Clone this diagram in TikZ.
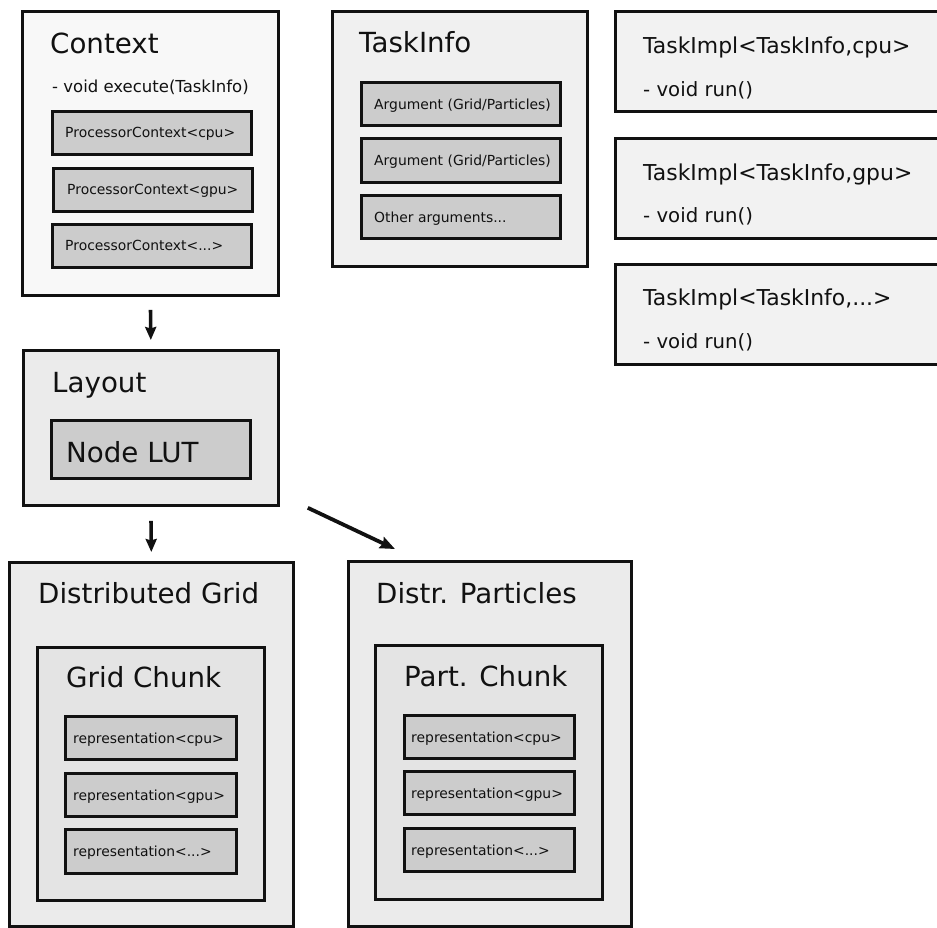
\documentclass[tikz,border=0pt]{standalone}
\usepackage{fontspec}
\setmainfont{DejaVu Sans}
\usetikzlibrary{arrows.meta}

\definecolor{ctxfill}{HTML}{F8F8F8}
\definecolor{infofill}{HTML}{F0F0F0}
\definecolor{implfill}{HTML}{F2F2F2}
\definecolor{outerfill}{HTML}{EBEBEB}
\definecolor{chunkfill}{HTML}{E4E4E4}
\definecolor{itemfill}{HTML}{CCCCCC}
\definecolor{ink}{HTML}{111111}

\tikzset{
  box/.style={draw=ink, line width=2.8pt, rectangle, inner sep=0pt, anchor=north west},
  itembox/.style={box, fill=itemfill},
  title/.style={inner sep=0pt, anchor=base west, text=ink, font=\fontsize{27.7}{32}\selectfont},
  implname/.style={inner sep=0pt, anchor=base west, text=ink, font=\fontsize{21.9}{26}\selectfont},
  method/.style={inner sep=0pt, anchor=base west, text=ink, font=\fontsize{19.7}{23}\selectfont},
  member/.style={inner sep=0pt, anchor=base west, text=ink, font=\fontsize{16.5}{19}\selectfont},
  small/.style={inner sep=0pt, anchor=base west, text=ink, font=\fontsize{13.9}{16}\selectfont},
  flow/.style={draw=ink, line width=3.6pt, -{Stealth[length=13pt,width=11pt,inset=1.5pt]}}
}

\begin{document}
\begin{tikzpicture}[x=1pt, y=-1pt]
\clip (0,0) rectangle (937,927);
\fill[white] (0,0) rectangle (937,927);

% ---- Context ----
\node[box, fill=ctxfill, minimum width=256pt, minimum height=284pt] (ctx) at (21,10) {};
\node[title] (ctxT) at (50,53.3) {Context};
\node[member] (ctxM) at (52,92) {- void execute(TaskInfo)};
\node[itembox, minimum width=199pt, minimum height=43pt] (pc1) at (51,110) {};
\node[small] (pc1T) at (65,137.7) {ProcessorContext<cpu>};
\node[itembox, minimum width=199pt, minimum height=43pt] (pc2) at (52,167) {};
\node[small] (pc2T) at (67,194.5) {ProcessorContext<gpu>};
\node[itembox, minimum width=199pt, minimum height=43pt] (pc3) at (51,223) {};
\node[small] (pc3T) at (65,250.5) {ProcessorContext<...>};

% ---- TaskInfo ----
\node[box, fill=infofill, minimum width=255pt, minimum height=255pt] (info) at (331,10) {};
\node[title] (infoT) at (359,52) {TaskInfo};
\node[itembox, minimum width=199pt, minimum height=43pt] (arg1) at (360,81) {};
\node[small] (arg1T) at (374,109) {Argument (Grid/Particles)};
\node[itembox, minimum width=199pt, minimum height=44pt] (arg2) at (360,137) {};
\node[small] (arg2T) at (374,165.5) {Argument (Grid/Particles)};
\node[itembox, minimum width=199pt, minimum height=43pt] (arg3) at (360,194) {};
\node[small] (arg3T) at (374,222) {Other arguments...};

% ---- TaskImpl variants ----
\node[box, fill=implfill, minimum width=340pt, minimum height=100pt] (impl1) at (614,10) {};
\node[implname] (impl1T) at (643,53) {TaskImpl<TaskInfo,cpu>};
\node[method] (impl1M) at (643,96.5) {- void run()};
\node[box, fill=implfill, minimum width=340pt, minimum height=100pt] (impl2) at (614,137) {};
\node[implname] (impl2T) at (643,180) {TaskImpl<TaskInfo,gpu>};
\node[method] (impl2M) at (643,222.7) {- void run()};
\node[box, fill=implfill, minimum width=340pt, minimum height=100pt] (impl3) at (614,263) {};
\node[implname] (impl3T) at (643,305) {TaskImpl<TaskInfo,...>};
\node[method] (impl3M) at (643,348.3) {- void run()};

% ---- Layout ----
\node[box, fill=outerfill, minimum width=255pt, minimum height=155pt] (layout) at (22,349) {};
\node[title] (layoutT) at (52,392) {Layout};
\node[itembox, minimum width=199pt, minimum height=58pt] (lut) at (50,419) {};
\node[title] (lutT) at (66,462.3) {Node LUT};

% ---- Distributed Grid ----
\node[box, fill=outerfill, minimum width=284pt, minimum height=364pt] (grid) at (8,561) {};
\node[title] (gridT) at (38,603) {Distributed Grid};
\node[box, fill=chunkfill, minimum width=227pt, minimum height=253pt] (gchunk) at (36,646) {};
\node[title] (gchunkT) at (66,687) {Grid Chunk};
\node[itembox, minimum width=171pt, minimum height=43pt] (g1) at (64,715) {};
\node[small] (g1T) at (73,743) {representation<cpu>};
\node[itembox, minimum width=171pt, minimum height=43pt] (g2) at (64,772) {};
\node[small] (g2T) at (73,800) {representation<gpu>};
\node[itembox, minimum width=171pt, minimum height=44pt] (g3) at (64,828) {};
\node[small] (g3T) at (73,856.5) {representation<...>};

% ---- Distributed Particles ----
\node[box, fill=outerfill, minimum width=283pt, minimum height=365pt] (parts) at (347,560) {};
\node[title] (partsT) at (376,603) {Distr. Particles};
\node[box, fill=chunkfill, minimum width=227pt, minimum height=254pt] (pchunk) at (374,644) {};
\node[title] (pchunkT) at (404,686.7) {Part. Chunk};
\node[itembox, minimum width=170pt, minimum height=43pt] (p1) at (403,714) {};
\node[small] (p1T) at (411,742) {representation<cpu>};
\node[itembox, minimum width=170pt, minimum height=43pt] (p2) at (403,770) {};
\node[small] (p2T) at (411,798.5) {representation<gpu>};
\node[itembox, minimum width=170pt, minimum height=43pt] (p3) at (403,827) {};
\node[small] (p3T) at (411,855) {representation<...>};

% ---- flow arrows ----
\draw[flow, shorten <=13pt, shorten >=9pt] (ctx.south) -- (layout.north);
\draw[flow, shorten <=14pt, shorten >=9pt] (layout.south) -- (grid.north);
\coordinate (diagStart) at ([xshift=28pt, yshift=-1pt]layout.south east);
\coordinate (diagEnd) at ([xshift=48pt, yshift=11pt]parts.north west);
\draw[flow, line width=3.8pt, -{Stealth[length=15pt,width=12pt,inset=2pt]}] (diagStart) -- (diagEnd);
\end{tikzpicture}
\end{document}
